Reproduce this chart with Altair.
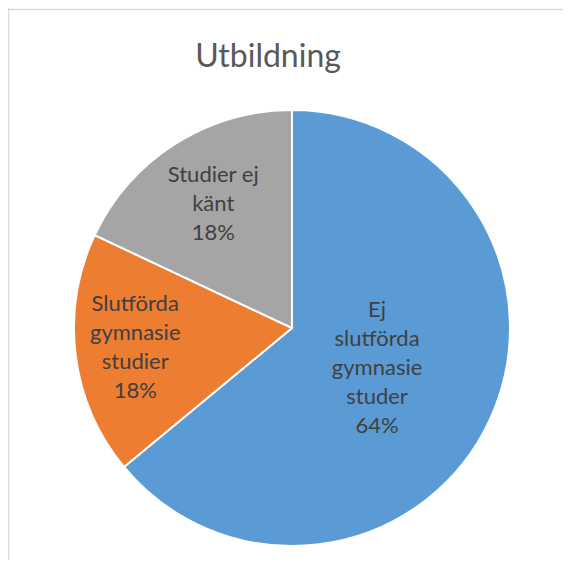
import altair as alt
import pandas as pd

# ---- data ----
categories = ["Ej slutförda gymnasie studer", "Slutförda gymnasie studier", "Studier ej känt"]
label_text = ["Ej\nslutförda\ngymnasie\nstuder", "Slutförda\ngymnasie\nstudier", "Studier ej\nkänt"]
shares = [64, 18, 18]
title_text = "Utbildning"

# ---- styling ----
colors = ["#5B9BD5", "#ED7D31", "#A5A5A5"]
LABEL_RADIUS = {categories[0]: 94, categories[1]: 158, categories[2]: 147}
FONT = "Lato"
LINE_H = 29
CX, CY, R = 284, 320, 218

df = pd.DataFrame({
    "category": categories,
    "share": shares,
    "idx": list(range(len(categories))),
    "label": [f"{t}\n{s}%" for t, s in zip(label_text, shares)],
    "lr": [LABEL_RADIUS[c] for c in categories],
})

base = alt.Chart(df)

pie = base.mark_arc(outerRadius=R, stroke="white", strokeWidth=2).encode(
    theta=alt.Theta("share:Q", stack=True),
    color=alt.Color("category:N", scale=alt.Scale(domain=categories, range=colors), legend=None),
    order=alt.Order("idx:Q"),
    x=alt.value(CX),
    y=alt.value(CY),
)

labels = base.transform_joinaggregate(
    total="sum(share)"
).transform_window(
    cum="sum(share)", sort=[alt.SortField("idx")], frame=[None, 0]
).transform_calculate(
    mid="(datum.cum - datum.share / 2) / datum.total * 2 * PI",
    nlines="split(datum.label, '\\n').length",
).transform_calculate(
    px=f"{CX} + datum.lr * sin(datum.mid)",
    py=f"{CY} - datum.lr * cos(datum.mid) - (datum.nlines - 1) / 2 * {LINE_H}",
).mark_text(
    font=FONT, fontSize=22, color="#404040", lineBreak="\n", lineHeight=LINE_H,
    align="center", baseline="middle",
).encode(
    x=alt.X("px:Q", scale=None),
    y=alt.Y("py:Q", scale=None),
    text="label:N",
)

title = alt.Chart(alt.Data(values=[{"t": title_text}])).mark_text(
    font=FONT, fontSize=32, color="#595959", align="center", baseline="alphabetic"
).encode(text="t:N", x=alt.value(260), y=alt.value(59))

frame = alt.Data(values=[{"a": 1}])
top_line = alt.Chart(frame).mark_rule(color="#D9D9D9", strokeWidth=1.5).encode(
    x=alt.value(0), x2=alt.value(600), y=alt.value(1.5))
left_line = alt.Chart(frame).mark_rule(color="#D9D9D9", strokeWidth=1.5).encode(
    x=alt.value(0.5), y=alt.value(0), y2=alt.value(600))

chart = alt.layer(top_line, left_line, pie, labels, title).properties(
    width=555, height=552, autosize=alt.AutoSizeParams(type="none"), padding=0,
    background="white",
).configure_view(stroke=None)

chart.save("out.html", embed_options={"renderer": "svg", "actions": False})
